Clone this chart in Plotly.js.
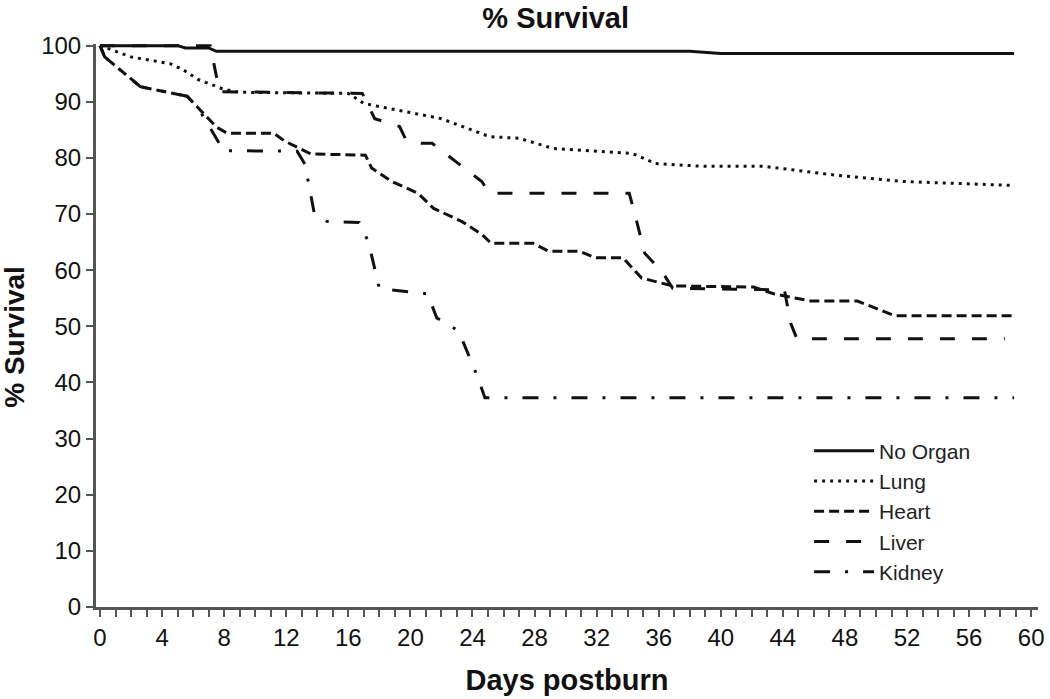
<!DOCTYPE html>
<html>
<head>
<meta charset="utf-8">
<script src="https://cdn.plot.ly/plotly-3.0.1.min.js"></script>
<style>html,body{margin:0;padding:0;background:#fff;}#chart{width:1050px;height:699px;}</style>
</head>
<body>
<div id="chart"></div>
<script>
// Series names
const seriesNames = ["No Organ", "Lung", "Heart", "Liver", "Kidney"];

// No Organ
const noOrganDays = [0, 5, 5.5, 7, 7.5, 38, 40, 58.9];
const noOrganSurv = [100, 100, 99.6, 99.6, 99, 99, 98.6, 98.6];

// Lung
const lungDays = [0, 2, 4.5, 5.3, 6.3, 7.2, 8, 9, 16, 17, 19.6, 22, 25.1, 27, 29.2, 32, 34.3, 35.8, 38.9, 42.8, 47.2, 51.8, 58.8];
const lungSurv = [100, 98, 96.8, 95.8, 94, 93, 92.2, 91.7, 91.5, 89.7, 88.3, 87, 83.8, 83.5, 81.7, 81.2, 80.8, 79, 78.5, 78.5, 77, 75.8, 75.1];

// Heart
const heartDays = [0, 0.3, 2.6, 3.5, 5.6, 6.3, 7.5, 8.2, 11.2, 11.9, 13.6, 17.1, 17.5, 18.8, 20.5, 21.5, 23.3, 24.6, 25.2, 27.9, 28.9, 30.9, 31.9, 33.7, 34.9, 36.9, 42.1, 43.4, 45.8, 48.8, 51.2, 58.9];
const heartSurv = [100, 98, 92.7, 92.2, 91, 89, 85.5, 84.4, 84.4, 83, 80.7, 80.5, 78.2, 75.8, 73.7, 71, 68.7, 66.4, 64.8, 64.8, 63.4, 63.4, 62.2, 62.2, 58.6, 57.2, 57, 55.8, 54.5, 54.5, 51.9, 51.9];

// Liver
const liverDays = [0, 7.1, 7.7, 16.9, 17.7, 19.3, 19.7, 20.7, 21.4, 24.6, 25.1, 34.1, 34.5, 35.1, 36.2, 36.9, 44.1, 44.5, 44.9, 58.3];
const liverSurv = [100, 100, 91.8, 91.5, 87, 85.6, 83.3, 82.6, 82.6, 75.8, 73.7, 73.7, 69.6, 63, 59.8, 56.8, 56.5, 50.6, 47.8, 47.8];

// Kidney
const kidneyDays = [0, 0.3, 2.6, 3.5, 5.6, 6.3, 7.6, 7.9, 12.7, 13.2, 13.5, 13.8, 14.6, 16.7, 17.3, 18, 21.1, 21.7, 22.6, 23.1, 24.3, 24.8, 58.9];
const kidneySurv = [100, 98, 92.7, 92.2, 91, 89, 83, 81.3, 81.2, 78.9, 74.5, 70.2, 68.7, 68.5, 65, 56.7, 55.8, 51.5, 50, 49.2, 41.2, 37.3, 37.3];

const xTickVals = [0, 4, 8, 12, 16, 20, 24, 28, 32, 36, 40, 44, 48, 52, 56, 60];
const yTickVals = [0, 10, 20, 30, 40, 50, 60, 70, 80, 90, 100];

const xs = [noOrganDays, lungDays, heartDays, liverDays, kidneyDays];
const ys = [noOrganSurv, lungSurv, heartSurv, liverSurv, kidneySurv];
const dashes = ["solid", "3px,5px", "10px,5px", "15px,17px", "16px,15px,3px,15px"];

const traces = seriesNames.map((n, i) => ({
  x: xs[i], y: ys[i], name: n, type: "scatter", mode: "lines",
  line: {color: "#111", width: 3, dash: dashes[i], shape: "linear"}
}));

const font = "Liberation Sans, Arial, sans-serif";
const layout = {
  width: 1050, height: 699,
  margin: {l: 96, r: 12, t: 44, b: 92},
  paper_bgcolor: "#fff", plot_bgcolor: "#fff",
  font: {family: font, color: "#111", size: 24},
  title: {text: "<b>% Survival</b>", font: {family: font, size: 29, color: "#111"}, xref: "paper", x: 0.488, xanchor: "center", yref: "container", y: 0.974, yanchor: "middle"},
  showlegend: true,
  legend: {x: 0.757, y: 0.3135, xanchor: "left", yanchor: "top", bgcolor: "rgba(0,0,0,0)", font: {family: font, size: 21, color: "#222"}, tracegroupgap: 0, itemwidth: 60},
  xaxis: {
    range: [-0.26, 60.44], tickvals: xTickVals, ticks: "outside", ticklen: 7, tickwidth: 2, tickcolor: "#555",
    showline: true, linecolor: "#555", linewidth: 3, showgrid: false, zeroline: false,
    tickfont: {family: font, size: 24, color: "#111"},
    minor: {dtick: 1, ticks: "outside", ticklen: 7, tickwidth: 2, tickcolor: "#555", showgrid: false},
    title: {text: "<b>Days postburn</b>", font: {family: font, size: 29, color: "#111"}, standoff: 20}
  },
  yaxis: {
    range: [0, 100.3], tickvals: yTickVals, ticks: "outside", ticklen: 7, tickwidth: 2, tickcolor: "#555",
    showline: true, linecolor: "#555", linewidth: 3, showgrid: false, zeroline: false,
    tickfont: {family: font, size: 24, color: "#111"}
  },
  annotations: [{
    text: "<b>% Survival</b>", textangle: -90, xref: "paper", yref: "paper",
    x: 0, y: 0.48, xshift: -81, xanchor: "center", yanchor: "middle", showarrow: false,
    font: {family: font, size: 28, color: "#111"}
  }]
};

Plotly.newPlot("chart", traces, layout, {displayModeBar: false, staticPlot: true});
</script>
</body>
</html>
